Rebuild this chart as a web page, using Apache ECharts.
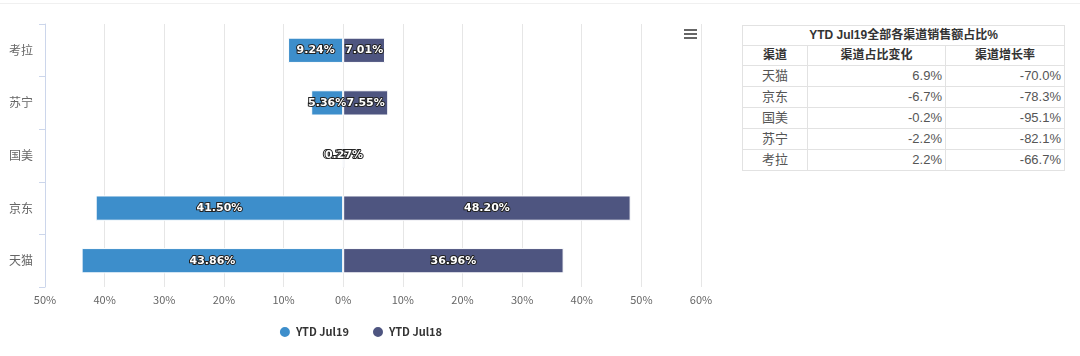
<!DOCTYPE html>
<html>
<head>
<meta charset="utf-8">
<script src="https://cdn.jsdelivr.net/npm/echarts@6/dist/echarts.min.js"></script>
<style>
  html, body { margin: 0; padding: 0; background: #fff; width: 1080px; height: 356px; overflow: hidden; }
  #topline { position: absolute; left: 0; top: 3px; width: 1080px; height: 1px; background: #f0f0f0; }
  #chart { position: absolute; left: 0; top: 0; width: 720px; height: 356px; }
  #tbl { position: absolute; left: 742px; top: 25px; width: 323px; border-collapse: collapse;
         font-family: "Liberation Sans", "Noto Sans CJK SC", sans-serif; color: #555; }
  #tbl td, #tbl th { border: 1px solid #e2e2e2; padding: 0 3px; }
  #tbl th { font-weight: bold; color: #333; font-size: 12px; text-align: center; line-height: 19px; height: 19px; }
  #tbl td { font-size: 13px; line-height: 20px; height: 20px; }
  #tbl td.c { text-align: center; }
  #tbl td.r { text-align: right; }
</style>
</head>
<body>
<div id="topline"></div>
<div id="chart"></div>
<table id="tbl"></table>
<script>
const categories = ['天猫', '京东', '国美', '苏宁', '考拉'];
const seriesNames = ['YTD Jul19', 'YTD Jul18'];
const jul19 = [43.86, 41.50, 0.25, 5.36, 9.24];
const jul18 = [36.96, 48.20, 0.27, 7.55, 7.01];

const tableTitle = 'YTD Jul19全部各渠道销售额占比%';
const tableHeaders = ['渠道', '渠道占比变化', '渠道增长率'];
const tableChannels = ['天猫', '京东', '国美', '苏宁', '考拉'];
const shareChange = ['6.9%', '-6.7%', '-0.2%', '-2.2%', '2.2%'];
const growthRate = ['-70.0%', '-78.3%', '-95.1%', '-82.1%', '-66.7%'];

// Build table
const tbl = document.getElementById('tbl');
let html = '<tr><th colspan="3">' + tableTitle + '</th></tr>';
html += '<tr><th style="width:58px">' + tableHeaders[0] + '</th><th style="width:131px">' + tableHeaders[1] + '</th><th>' + tableHeaders[2] + '</th></tr>';
for (let i = 0; i < tableChannels.length; i++) {
  html += '<tr><td class="c">' + tableChannels[i] + '</td><td class="r">' + shareChange[i] + '</td><td class="r">' + growthRate[i] + '</td></tr>';
}
tbl.innerHTML = html;

const chart = echarts.init(document.getElementById('chart'), null, { renderer: 'canvas' });
const labelStyle = {
  show: true,
  position: 'inside',
  color: '#fff',
  fontWeight: 'bold',
  fontSize: 11,
  fontFamily: 'DejaVu Sans',
  textBorderColor: '#222',
  textBorderWidth: 2,
  formatter: p => Math.abs(p.value).toFixed(2) + '%'
};
chart.setOption({
  animation: false,
  textStyle: { fontFamily: '"Noto Sans CJK SC", "Noto Sans", sans-serif' },
  grid: { left: 45, right: 19, top: 24, bottom: 69 },
  legend: {
    data: seriesNames,
    bottom: 12,
    left: 'center',
    icon: 'circle',
    itemWidth: 12,
    itemHeight: 12,
    itemGap: 22,
    textStyle: { color: '#333', fontWeight: 'bold', fontSize: 11 }
  },
  xAxis: {
    type: 'value',
    min: -50,
    max: 60,
    interval: 10,
    axisLine: { show: false },
    axisTick: { show: false },
    splitLine: { lineStyle: { color: '#e6e6e6' } },
    axisLabel: { color: '#666', fontSize: 11, margin: 7, formatter: v => Math.abs(v) + '%' }
  },
  yAxis: {
    type: 'category',
    data: categories,
    axisLine: { onZero: false, lineStyle: { color: '#ccd6eb' } },
    axisTick: { show: true, length: 6, lineStyle: { color: '#ccd6eb' } },
    axisLabel: { color: '#666', fontSize: 12, margin: 12 }
  },
  series: [
    {
      name: seriesNames[0],
      type: 'bar',
      stack: 'total',
      barWidth: '48%',
      data: jul19.map(v => -v),
      itemStyle: { color: '#3d8ecb', borderColor: '#fff', borderWidth: 1 },
      label: labelStyle
    },
    {
      name: seriesNames[1],
      type: 'bar',
      stack: 'total',
      barWidth: '48%',
      data: jul18,
      itemStyle: { color: '#4e5580', borderColor: '#fff', borderWidth: 1 },
      label: labelStyle
    }
  ],
  graphic: [
    { type: 'rect', left: 684, top: 29, shape: { width: 13, height: 2 }, style: { fill: '#666' } },
    { type: 'rect', left: 684, top: 33, shape: { width: 13, height: 2 }, style: { fill: '#666' } },
    { type: 'rect', left: 684, top: 37, shape: { width: 13, height: 2 }, style: { fill: '#666' } }
  ]
});
</script>
</body>
</html>
